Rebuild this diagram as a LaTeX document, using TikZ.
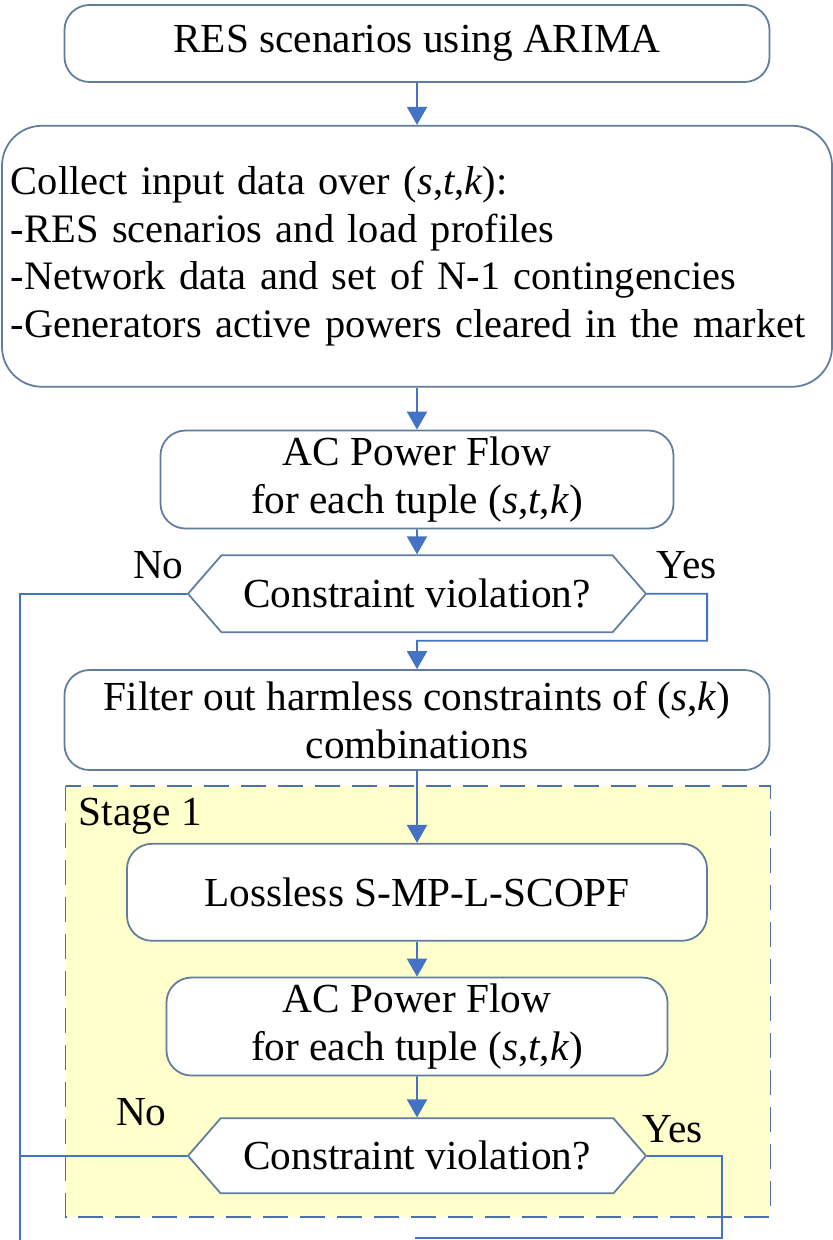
\documentclass[tikz,border=0pt]{standalone}
\usepackage{fontspec}
\setmainfont{Liberation Serif}
\usepackage{tikz}
\usetikzlibrary{shapes.symbols, arrows.meta, positioning, calc, backgrounds}
\definecolor{boxline}{RGB}{96,124,158}
\definecolor{flowblue}{RGB}{68,114,196}
\definecolor{stagefill}{RGB}{255,255,204}
\definecolor{stageline}{RGB}{78,112,168}
\tikzset{
  stepbox/.style={rectangle, draw=boxline, fill=white,
    align=center, rounded corners=0.5cm, line width=1pt,
    inner sep=0pt, font=\fontsize{23.5}{27}\selectfont},
  decision/.style={signal, signal to=west and east, signal pointer angle=98,
    draw=boxline, fill=white, line width=1pt, inner sep=0pt,
    minimum width=9.16cm, font=\fontsize{23.5}{27}\selectfont},
  arrow/.style={-{Triangle[length=0.36cm, width=0.4cm]}, line width=1.1pt, color=flowblue},
  line/.style={line width=1.1pt, color=flowblue},
  answer/.style={font=\fontsize{23.5}{27}\selectfont, inner sep=0pt},
  stageframe/.style={draw=stageline, fill=stagefill, line width=0.9pt,
    dash pattern=on 0.5cm off 0.24cm}
}

\begin{document}
\begin{tikzpicture}
  \useasboundingbox (0,0) rectangle (16.66,-24.8);

  % Inputs
  \node[stepbox, minimum width=14.1cm, minimum height=1.54cm] (arima) at (8.34,-0.87) {RES scenarios using ARIMA};
  \node[stepbox, below=0.84cm of arima, minimum width=16.6cm, minimum height=5.22cm,
    rounded corners=0.8cm, align=left, text width=16.24cm,
    font=\fontsize{23}{27.2}\selectfont] (collect)
    {Collect input data over (\textit{s},\textit{t},\textit{k}):\\
     -RES scenarios and load profiles\\
     -Network data and set of N-1 contingencies\\
     -Generators active powers cleared in the market};

  % First check
  \node[stepbox, below=0.84cm of collect, minimum width=10.26cm, minimum height=1.96cm] (acflow)
    {AC Power Flow\\for each tuple (\textit{s},\textit{t},\textit{k})};
  \node[decision, below=0.5cm of acflow, minimum height=1.54cm] (violone) {Constraint violation?};
  \node[stepbox, below=0.72cm of violone, minimum width=14.1cm, minimum height=2.0cm] (filter)
    {Filter out harmless constraints of (\textit{s},\textit{k})\\combinations};

  % Stage 1
  \node[stepbox, below=1.44cm of filter, minimum width=11.6cm, minimum height=1.94cm] (scopf)
    {Lossless S-MP-L-SCOPF};
  \node[stepbox, below=0.7cm of scopf, minimum width=10.02cm, minimum height=1.96cm] (acflowtwo)
    {AC Power Flow\\for each tuple (\textit{s},\textit{t},\textit{k})};
  \node[decision, below=0.82cm of acflowtwo, minimum height=1.5cm] (violtwo) {Constraint violation?};

  \begin{scope}[on background layer]
    \draw[stageframe] ($(filter.south west)+(0.04,-0.3)$) coordinate (stagecorner)
      rectangle ($(filter.south east |- violtwo.south)+(0,-0.46)$);
  \end{scope}
  \node[answer, anchor=north west] (stagelabel) at ($(stagecorner)+(0.26,-0.24)$) {Stage 1};

  % Yes / No labels
  \node[answer, anchor=south east] (noone) at ($(violone.west)+(-0.06,0.3)$) {No};
  \node[answer, anchor=south west] (yesone) at ($(violone.east)+(0.18,0.3)$) {Yes};
  \node[answer, anchor=south east] (notwo) at ($(violtwo.west)+(-0.4,0.6)$) {No};
  \node[answer, anchor=south west] (yestwo) at ($(violtwo.east)+(-0.1,0.26)$) {Yes};

  % Connectors
  \coordinate (noend) at (0.4,-24.9);
  \coordinate (yesend) at (8.3,-24.76);
  \draw[arrow] (arima) -- (collect);
  \draw[arrow] (collect) -- (acflow);
  \draw[arrow] (acflow) -- (violone);
  \draw[arrow] (violone.east) -- ++(1.2,0) |- ($(violone.south)!0.21!(filter.north)$) -- (filter.north);
  \draw[line] (violone.west) -| (noend);
  \draw[arrow] (filter) -- (scopf);
  \draw[arrow] (scopf) -- (acflowtwo);
  \draw[arrow] (acflowtwo) -- (violtwo);
  \draw[line] (violtwo.west) -- (violtwo.west -| noend);
  \draw[line] (violtwo.east) -- ++(1.5,0) |- (yesend);
\end{tikzpicture}
\end{document}
